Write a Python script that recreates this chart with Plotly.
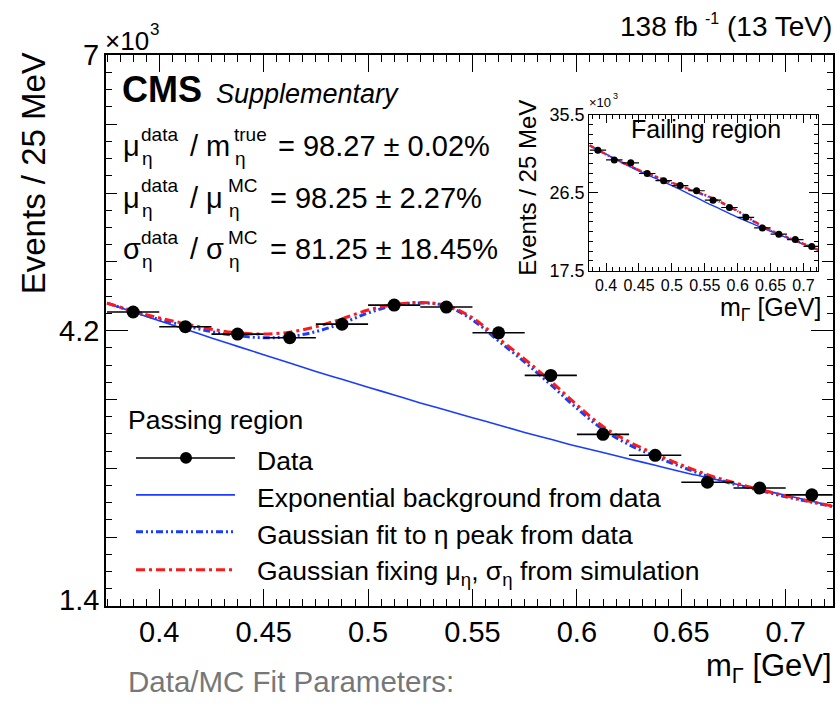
import plotly.graph_objects as go

# ---------------- data (values in units of 10^3 events) ----------------
bin_centers = [0.3875, 0.4125, 0.4375, 0.4625, 0.4875, 0.5125, 0.5375,
               0.5625, 0.5875, 0.6125, 0.6375, 0.6625, 0.6875, 0.7125]
bin_half_width = [0.0125] * 14
pass_counts = [4.39, 4.24, 4.165, 4.128, 4.266, 4.46, 4.44,
               4.178, 3.745, 3.145, 2.932, 2.658, 2.599, 2.530]
fail_counts = [31.4, 30.28, 29.94, 28.71, 27.88, 27.32, 26.72,
               25.64, 24.79, 23.66, 22.43, 21.71, 21.09, 20.30]

curve_x = [0.375, 0.3875, 0.40, 0.4125, 0.425, 0.4375, 0.45, 0.4625, 0.475,
           0.4875, 0.50, 0.5125, 0.525, 0.5375, 0.55, 0.5625, 0.575, 0.5875,
           0.60, 0.6125, 0.625, 0.6375, 0.65, 0.6625, 0.675, 0.6875, 0.70,
           0.7125, 0.7225]
pass_bkg = [4.48, 4.39, 4.30, 4.215, 4.125, 4.04, 3.955, 3.87, 3.785, 3.705,
            3.625, 3.545, 3.465, 3.39, 3.315, 3.24, 3.165, 3.095, 3.025, 2.96,
            2.895, 2.83, 2.765, 2.705, 2.645, 2.585, 2.525, 2.465, 2.415]
pass_fit = [4.48, 4.395, 4.315, 4.25, 4.19, 4.148, 4.128, 4.14, 4.19, 4.275,
            4.38, 4.455, 4.482, 4.45, 4.31, 4.095, 3.88, 3.65, 3.41, 3.195,
            3.04, 2.92, 2.815, 2.72, 2.64, 2.575, 2.51, 2.455, 2.41]
pass_fixed = [4.48, 4.40, 4.33, 4.27, 4.215, 4.178, 4.165, 4.185, 4.24, 4.32,
              4.41, 4.465, 4.487, 4.455, 4.33, 4.12, 3.91, 3.685, 3.445, 3.225,
              3.07, 2.945, 2.835, 2.735, 2.655, 2.585, 2.52, 2.46, 2.415]

inset_x = [0.375, 0.40, 0.425, 0.45, 0.475, 0.50, 0.525, 0.55, 0.575, 0.60,
           0.625, 0.65, 0.675, 0.70, 0.7225]
fail_bkg = [31.96, 30.95, 29.95, 29.0, 28.15, 27.3, 26.4, 25.45, 24.55, 23.65,
            22.85, 22.05, 21.3, 20.55, 19.85]
fail_fit = [31.96, 30.9, 29.95, 29.1, 28.35, 27.6, 26.9, 26.2, 25.35, 24.35,
            23.15, 22.15, 21.35, 20.6, 19.9]
fail_fixed = [31.96, 30.92, 29.98, 29.12, 28.38, 27.65, 26.95, 26.25, 25.4, 24.4,
              23.2, 22.18, 21.37, 20.62, 19.92]

main_xticks = [0.4, 0.45, 0.5, 0.55, 0.6, 0.65, 0.7]
main_xticklabels = ["0.4", "0.45", "0.5", "0.55", "0.6", "0.65", "0.7"]
main_yticks = [1.4, 4.2, 7.0]
main_yticklabels = ["1.4", "4.2", "7"]
inset_yticks = [17.5, 26.5, 35.5]
inset_yticklabels = ["17.5", "26.5", "35.5"]

# ---------------- styling ----------------
FONT = "Liberation Sans"
BLUE = "#1a3cff"
RED = "#ff1a1a"
DASH_FIT = "7px,3px,2px,3px,2px,3px"
DASH_FIX = "9px,4px,3px,4px"
W, H = 840, 706


def px(x):
    return x / W


def py(y):
    return 1 - y / H


fig = go.Figure()

# main panel
fig.add_trace(go.Scatter(x=curve_x, y=pass_bkg, mode="lines", line=dict(color=BLUE, width=1.6, shape="spline"),
                         xaxis="x", yaxis="y", showlegend=False, hoverinfo="skip"))
fig.add_trace(go.Scatter(x=curve_x, y=pass_fit, mode="lines",
                         line=dict(color=BLUE, width=3, dash=DASH_FIT, shape="spline"),
                         xaxis="x", yaxis="y", showlegend=False))
fig.add_trace(go.Scatter(x=curve_x, y=pass_fixed, mode="lines",
                         line=dict(color=RED, width=3, dash=DASH_FIX, shape="spline"),
                         xaxis="x", yaxis="y", showlegend=False))
fig.add_trace(go.Scatter(x=bin_centers, y=pass_counts, mode="markers",
                         marker=dict(color="black", size=13),
                         error_x=dict(type="data", array=bin_half_width, color="black", thickness=1.6, width=0),
                         xaxis="x", yaxis="y", showlegend=False))
# helper trace for medium-length tick axis
fig.add_trace(go.Scatter(x=[], y=[], xaxis="x", yaxis="y3", showlegend=False))

# inset panel
fig.add_trace(go.Scatter(x=inset_x, y=fail_bkg, mode="lines", line=dict(color=BLUE, width=1.4, shape="spline"),
                         xaxis="x2", yaxis="y2", showlegend=False))
fig.add_trace(go.Scatter(x=inset_x, y=fail_fit, mode="lines",
                         line=dict(color=BLUE, width=2.2, dash="4px,2px,1px,2px,1px,2px", shape="spline"),
                         xaxis="x2", yaxis="y2", showlegend=False))
fig.add_trace(go.Scatter(x=inset_x, y=fail_fixed, mode="lines",
                         line=dict(color=RED, width=2.2, dash="5px,3px,2px,3px", shape="spline"),
                         xaxis="x2", yaxis="y2", showlegend=False))
fig.add_trace(go.Scatter(x=bin_centers, y=fail_counts, mode="markers",
                         marker=dict(color="black", size=7),
                         error_x=dict(type="data", array=bin_half_width, color="black", thickness=1.2, width=0),
                         xaxis="x2", yaxis="y2", showlegend=False))

xr = [0.3745, 0.7225]
axis_common = dict(showgrid=False, zeroline=False, showline=True, linecolor="black", linewidth=1.5,
                   mirror="ticks", ticks="inside", tickcolor="black")

fig.update_layout(
    width=W, height=H, autosize=False,
    margin=dict(l=0, r=0, t=0, b=0),
    paper_bgcolor="white", plot_bgcolor="white",
    font=dict(family=FONT, color="black"),
    xaxis=dict(domain=[px(106), px(832.7)], range=xr, anchor="y",
               tickvals=main_xticks, ticktext=main_xticklabels, ticklen=17, tickwidth=1.3,
               tickfont=dict(size=29, family=FONT),
               minor=dict(dtick=0.00625, tick0=0.4, ticklen=7, ticks="inside", tickcolor="black", tickwidth=1.2),
               **axis_common),
    yaxis=dict(domain=[py(613.3), py(46.7)], range=[1.4, 7.0], anchor="x",
               tickvals=main_yticks, ticklen=22, tickwidth=1.3, showticklabels=False,
               minor=dict(dtick=0.175, tick0=1.4, ticklen=6, ticks="inside", tickcolor="black", tickwidth=1.2),
               **axis_common),
    yaxis3=dict(overlaying="y", anchor="x", range=[1.4, 7.0], side="left",
                tickvals=[2.1, 2.8, 3.5, 4.9, 5.6, 6.3], ticklen=11, tickwidth=1.2,
                showticklabels=False, showgrid=False, zeroline=False, showline=False,
                mirror="ticks", ticks="inside", tickcolor="black"),
    xaxis2=dict(domain=[px(589.3), px(818.3)], range=xr, anchor="y2",
                tickvals=main_xticks, ticktext=main_xticklabels, ticklen=8, tickwidth=1,
                tickfont=dict(size=16, family=FONT),
                minor=dict(dtick=0.01, tick0=0.4, ticklen=4, ticks="inside", tickcolor="black", tickwidth=1),
                **{**axis_common, "linewidth": 1.2}),
    yaxis2=dict(domain=[py(268.3), py(107.7)], range=[17.5, 35.5], anchor="x2",
                tickvals=inset_yticks, ticktext=inset_yticklabels, ticklen=9, tickwidth=1,
                tickfont=dict(size=18, family=FONT),
                minor=dict(dtick=1.125, tick0=17.5, ticklen=4, ticks="inside", tickcolor="black", tickwidth=1),
                **{**axis_common, "linewidth": 1.2}),
)

ann = []


def text(x, y, s, size, xanchor="left", color="black", family=FONT, angle=0, yanchor="middle"):
    ann.append(dict(x=px(x), y=py(y), xref="paper", yref="paper", text=s, showarrow=False,
                    xanchor=xanchor, yanchor=yanchor, textangle=angle,
                    font=dict(size=size, color=color, family=family)))


# main y tick labels placed at their axis values
for val, lab, shift in zip(main_yticks, main_yticklabels, [6, 0, 0]):
    ann.append(dict(x=px(101), y=val, xref="paper", yref="y", text=lab, showarrow=False,
                    xanchor="right", yanchor="middle", yshift=shift,
                    font=dict(size=29, family=FONT, color="black")))

# axis titles and headers
text(33, 168, "Events / 25 MeV", 33, xanchor="center", angle=-90)
text(103, 32, "×10", 26)
text(148, 20, "3", 17)
text(700, 17, "138 fb", 28, xanchor="right")
text(703, 9, "-1", 16)
text(834, 17, "(13 TeV)", 28, xanchor="right")
text(834, 677, "m<sub>Γ</sub> [GeV]", 31, xanchor="right")
text(126, 691, "Data/MC Fit Parameters:", 29.5, color="#777777")
text(120, 82, "<b>CMS</b>", 36)
text(214, 86, "<i>Supplementary</i>", 27)

# fit-parameter lines
lines = [
    (140, "μ", "m", "true", 232, "= 98.27 ± 0.02%", 276),
    (193, "μ", "μ", "MC", 226, "= 98.25 ± 2.27%", 268),
    (246, "σ", "σ", "MC", 226, "= 81.25 ± 18.45%", 268),
]
for yc, s1, s2, sup2, xsup2, rest, xrest in lines:
    text(121, yc, s1, 29)
    text(139, yc - 12, "data", 19)
    text(140, yc + 13, "η", 19)
    text(188, yc, "/", 29)
    text(204, yc, s2, 29)
    text(xsup2, yc - 12, sup2, 19)
    text(xsup2 + 1, yc + 13, "η", 19)
    text(xrest, yc, rest, 29)

# inset labels
text(528, 183, "Events / 25 MeV", 24, xanchor="center", angle=-90)
text(587, 95, "×10", 13)
text(611, 89, "3", 9)
text(706, 122, "Failing region", 25, xanchor="center")
text(823, 308, "m<sub>Γ</sub> [GeV]", 25, xanchor="right")

# legend (manual)
text(126, 422, "Passing region", 26.5)
leg_y = [461, 499, 537, 576]
leg_txt = ["Data", "Exponential background from data", "Gaussian fit to η peak from data",
           "Gaussian fixing μ<sub>η</sub>, σ<sub>η</sub> from simulation"]
for yy, tt in zip(leg_y, leg_txt):
    text(255, yy + 3, tt, 26.5)

shapes = [
    dict(type="line", xref="paper", yref="paper", x0=px(136), x1=px(235), y0=py(leg_y[0]), y1=py(leg_y[0]),
         line=dict(color="black", width=1.6)),
    dict(type="circle", xref="paper", yref="paper", x0=px(180), x1=px(192), y0=py(leg_y[0] + 6),
         y1=py(leg_y[0] - 6), fillcolor="black", line=dict(color="black", width=0)),
    dict(type="line", xref="paper", yref="paper", x0=px(136), x1=px(235), y0=py(leg_y[1]), y1=py(leg_y[1]),
         line=dict(color=BLUE, width=1.6)),
    dict(type="line", xref="paper", yref="paper", x0=px(136), x1=px(235), y0=py(leg_y[2]), y1=py(leg_y[2]),
         line=dict(color=BLUE, width=3, dash=DASH_FIT)),
    dict(type="line", xref="paper", yref="paper", x0=px(136), x1=px(235), y0=py(leg_y[3]), y1=py(leg_y[3]),
         line=dict(color=RED, width=3, dash=DASH_FIX)),
]

fig.update_layout(annotations=ann, shapes=shapes)
fig.write_html("out.html")
